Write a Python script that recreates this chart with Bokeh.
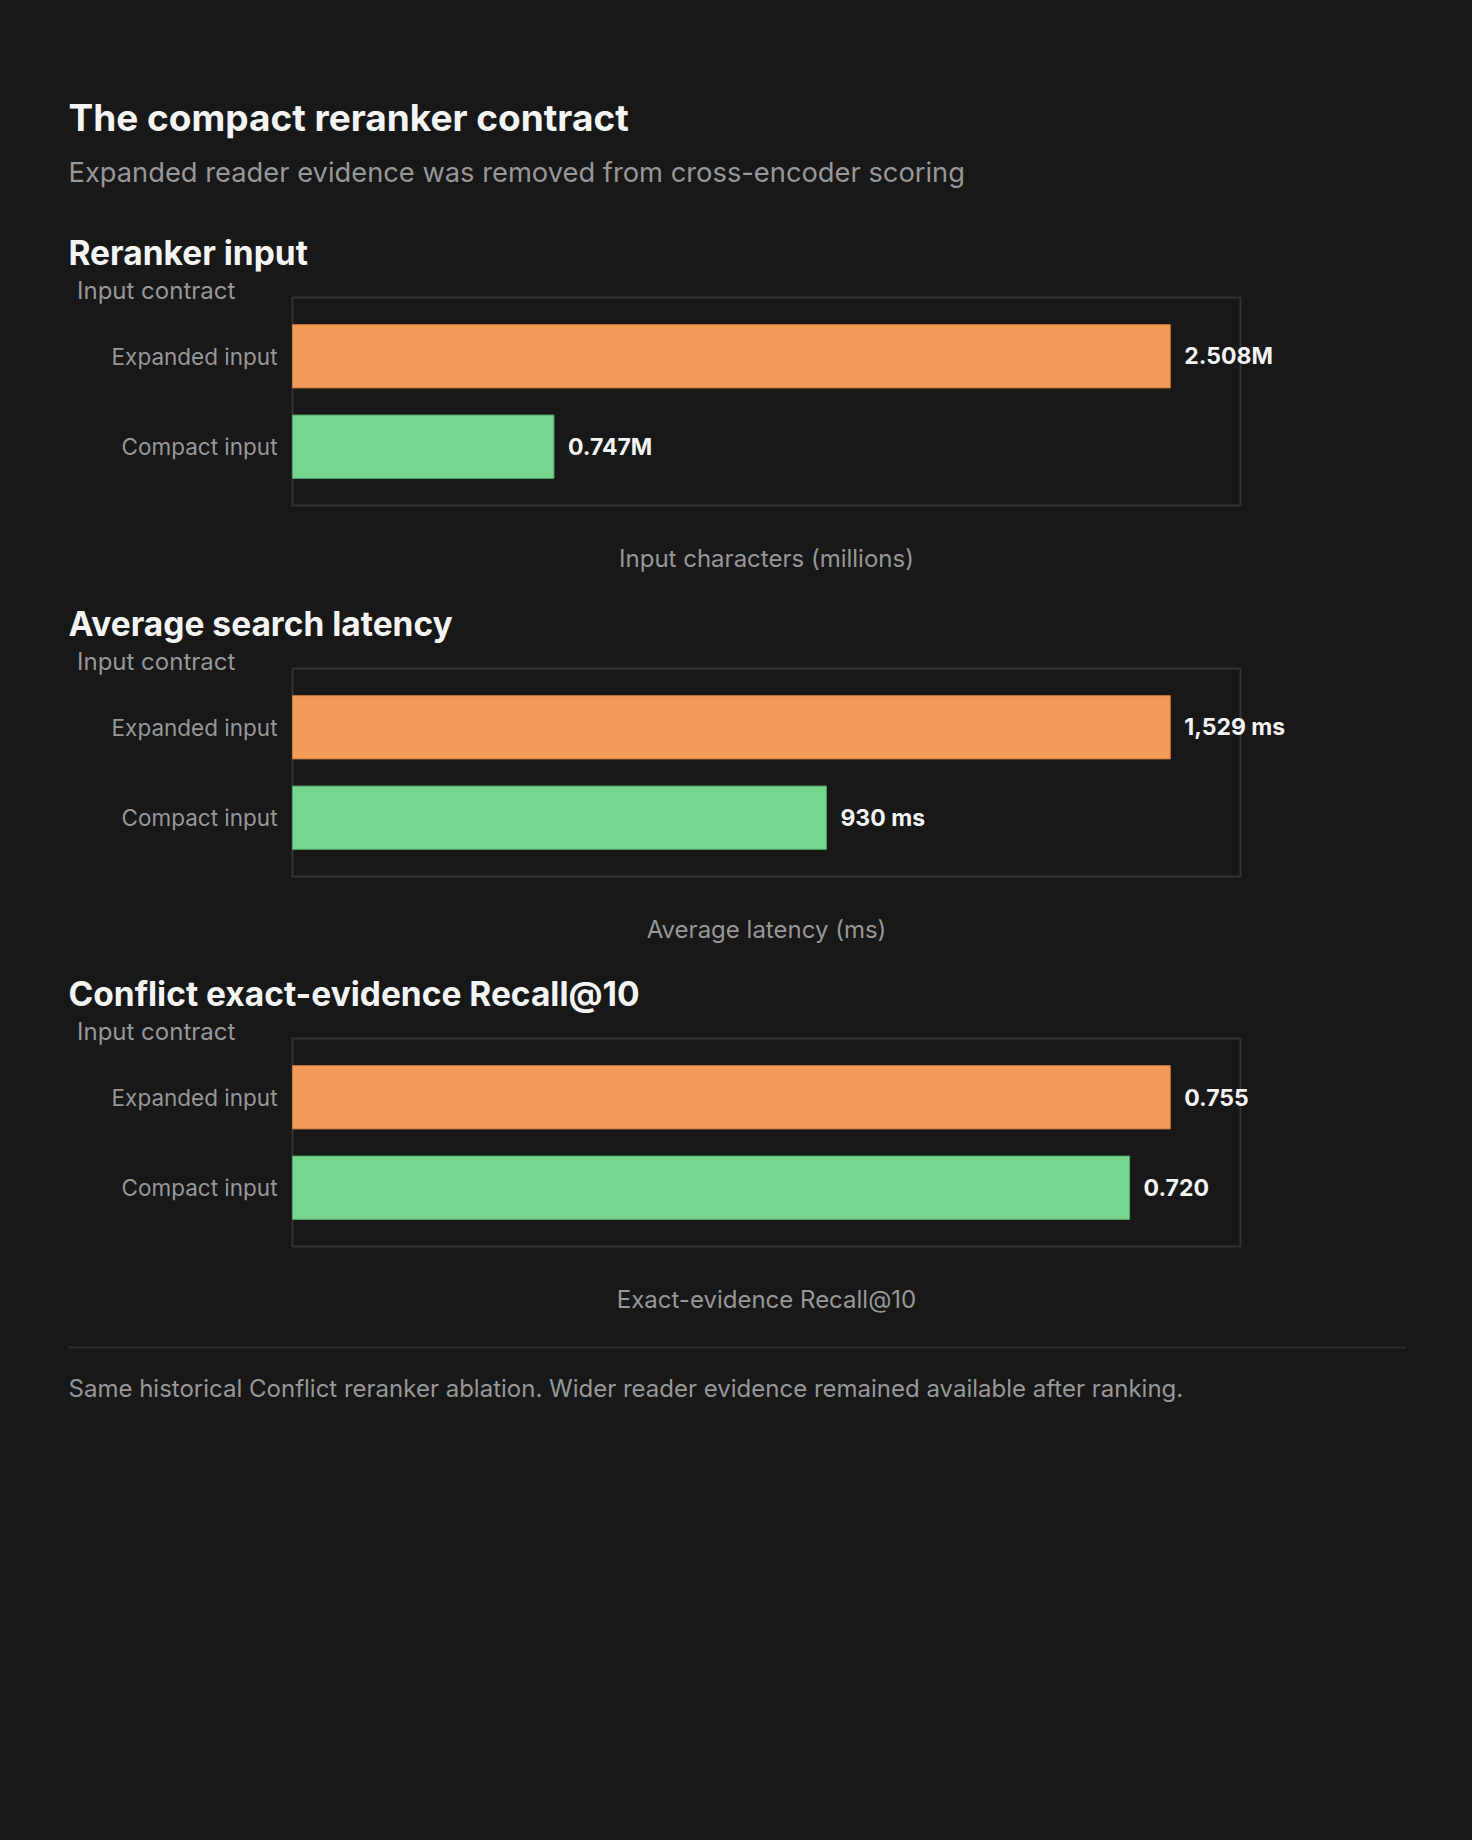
from bokeh.plotting import figure
from bokeh.models import Label, ColumnDataSource, Range1d, BoxAnnotation
from bokeh.layouts import column
from bokeh.embed import file_html
from bokeh.resources import INLINE
from bokeh.core.properties import value

# ---------------- data ----------------
categories = ["Expanded input", "Compact input"]
input_chars_millions = [2.508, 0.747]
latency_ms = [1529, 930]
recall_at_10 = [0.755, 0.720]

input_labels = ["2.508M", "0.747M"]
latency_labels = ["1,529 ms", "930 ms"]
recall_labels = ["0.755", "0.720"]

chart_title = "The compact reranker contract"
chart_subtitle = "Expanded reader evidence was removed from cross-encoder scoring"
section_titles = ["Reranker input", "Average search latency", "Conflict exact-evidence Recall@10"]
axis_titles = ["Input characters (millions)", "Average latency (ms)", "Exact-evidence Recall@10"]
y_axis_title = "Input contract"
footer_note = ("Same historical Conflict reranker ablation. "
               "Wider reader evidence remained available after ranking.")

bar_colors = ["#F59B5A", "#77D68D"]
bar_edges = ["#C9783F", "#52A868"]

# ---------------- style / layout ----------------
BG = "#181818"
WHITE = "#F4F4F4"
GRAY = "#979797"
FRAME = "#333333"
FONT = "Inter"

PAGE_W = 1472
BOX_L = 292          # left edge of the plot box (px)
BOX_W = 948          # width of the plot box (px)
BOX_H = 208          # height of the plot box (px)
PAD = 0.15           # category padding (units)
BAR_H = 0.7


def add_label(p, x, baseline_from_top, text, size, color, bold=False, align="left"):
    shift = 0.38 * size
    p.add_layout(Label(x=x, y=p.height - baseline_from_top + shift,
                       x_units="screen", y_units="screen",
                       text=text, text_font=FONT, text_font_size=f"{size}px",
                       text_color=color, text_font_style="bold" if bold else "normal",
                       text_align=align, text_baseline="alphabetic"))


def base_fig(height):
    p = figure(width=PAGE_W, height=height, output_backend="svg", toolbar_location=None,
               min_border=0, min_border_left=0, min_border_right=0,
               min_border_top=0, min_border_bottom=0)
    p.title.visible = False
    p.axis.visible = False
    p.grid.visible = False
    p.outline_line_color = None
    p.background_fill_color = BG
    p.border_fill_color = BG
    return p


def section(height, box_top, values, labels, title, axis_title):
    p = base_fig(height)
    n = len(categories)
    lo, hi = -0.5 - PAD, n - 0.5 + PAD          # category extent of the box
    unit = BOX_H / (hi - lo)                     # px per category unit
    xmax = max(values) * 1.08
    px = BOX_W / xmax                            # px per data unit
    p.x_range = Range1d(-BOX_L / px, (PAGE_W - BOX_L) / px)
    p.y_range = Range1d(hi + (height - box_top - BOX_H) / unit, lo - box_top / unit)

    p.quad(left=[0], right=[xmax], top=[lo], bottom=[hi], fill_color=None,
           line_color=FRAME, line_width=2)

    src = ColumnDataSource(dict(cat=categories, y=list(range(n)), val=values, lab=labels,
                                fill=bar_colors, edge=bar_edges, zero=[0] * n))
    p.hbar(y="y", left=0, right="val", height=BAR_H, source=src,
           fill_color="fill", line_color="edge", line_width=1)
    p.text(x="val", y="y", text="lab", source=src, x_offset=14,
           text_font=value(FONT), text_font_size="23px", text_font_style="bold",
           text_color=WHITE, text_baseline="middle", text_align="left")
    p.text(x="zero", y="y", text="cat", source=src, x_offset=-15,
           text_font=value(FONT), text_font_size="22.5px",
           text_color=GRAY, text_baseline="middle", text_align="right")

    add_label(p, 68, box_top - 32, title, 33.5, WHITE, bold=True)
    add_label(p, 76.5, box_top + 2, y_axis_title, 24, GRAY)
    add_label(p, BOX_L + BOX_W / 2, box_top + BOX_H + 62, axis_title, 24, GRAY,
              align="center")
    return p


p1 = section(590, 297, input_chars_millions, input_labels, section_titles[0], axis_titles[0])
add_label(p1, 68, 131, chart_title, 37, WHITE, bold=True)
add_label(p1, 68, 182, chart_subtitle, 27.3, GRAY)
p2 = section(371, 668 - 590, latency_ms, latency_labels, section_titles[1], axis_titles[1])
p3 = section(370, 1038 - 961, recall_at_10, recall_labels, section_titles[2], axis_titles[2])

# footer with separator rule
p4 = base_fig(1840 - 1331)
p4.x_range = Range1d(0, 1)
p4.y_range = Range1d(0, 1)
p4.add_layout(BoxAnnotation(left=68, right=1405, top=p4.height - 15, bottom=p4.height - 17,
                            left_units="screen", right_units="screen",
                            top_units="screen", bottom_units="screen",
                            fill_color="#2E2E2E", fill_alpha=1, line_color=None))
add_label(p4, 68, 1396.7 - 1331, footer_note, 24, GRAY)

layout = column(p1, p2, p3, p4, spacing=0, styles={"background-color": BG})

html = file_html(layout, INLINE, title="The compact reranker contract")
html = html.replace("<head>", "<head><style>html,body{background:#181818;}</style>", 1)
open("out.html", "w").write(html)
